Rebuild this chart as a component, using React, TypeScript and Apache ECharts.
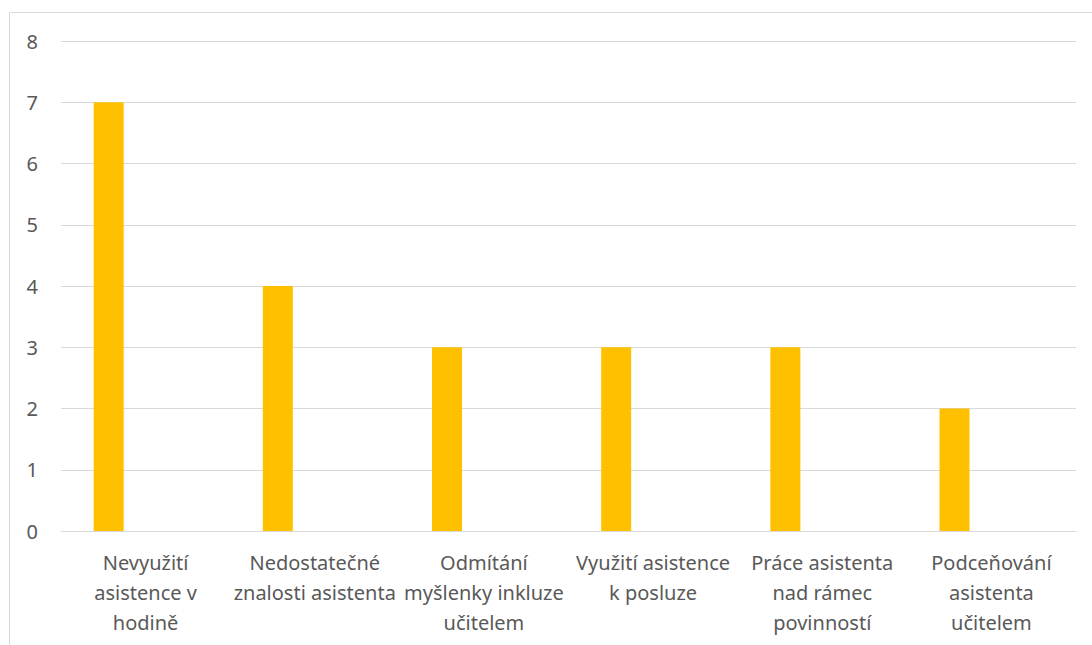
import React, { useEffect, useRef } from "react";
import * as echarts from "echarts";

const categories = [
  "Nevyužití\nasistence v\nhodině",
  "Nedostatečné\nznalosti asistenta",
  "Odmítání\nmyšlenky inkluze\nučitelem",
  "Využití asistence\nk posluze",
  "Práce asistenta\nnad rámec\npovinností",
  "Podceňování\nasistenta\nučitelem",
];
const values = [7, 4, 3, 3, 3, 2];
const emptySeries = [null, null, null, null, null, null];
const yTicks = { min: 0, max: 8, interval: 1 };

export default function App() {
  const ref = useRef<HTMLDivElement>(null);
  useEffect(() => {
    if (!ref.current) return;
    const chart = echarts.init(ref.current, undefined, { renderer: "svg" });
    chart.setOption({
      animation: false,
      backgroundColor: "#ffffff",
      textStyle: { fontFamily: "Noto Sans" },
      graphic: [
        {
          type: "rect",
          shape: { x: 9.5, y: 12.5, width: 1200, height: 800 },
          style: { fill: "none", stroke: "#d9d9d9", lineWidth: 1 },
          silent: true,
        },
      ],
      grid: { left: 61, right: 16, top: 41, bottom: 114 },
      xAxis: {
        type: "category",
        data: categories,
        axisLine: { lineStyle: { color: "#d9d9d9", width: 1 } },
        axisTick: { show: false },
        axisLabel: {
          color: "#595959",
          fontSize: 20,
          lineHeight: 30,
          margin: 16,
          interval: 0,
          fontFamily: "Noto Sans",
        },
      },
      yAxis: {
        type: "value",
        min: yTicks.min,
        max: yTicks.max,
        interval: yTicks.interval,
        axisLine: { show: false },
        axisTick: { show: false },
        splitLine: { lineStyle: { color: "#d9d9d9", width: 1 } },
        axisLabel: { color: "#595959", fontSize: 20, margin: 23, fontFamily: "Noto Sans" },
      },
      series: [
        {
          type: "bar",
          data: values,
          barWidth: 30,
          barGap: "146%",
          itemStyle: { color: "#FFC000" },
        },
        {
          type: "bar",
          data: emptySeries,
          barWidth: 30,
          itemStyle: { color: "#FFC000" },
        },
      ],
    });
    return () => chart.dispose();
  }, []);
  return (
    <div
      ref={ref}
      style={{ position: "absolute", left: 0, top: 0, width: 1092, height: 645 }}
    />
  );
}
